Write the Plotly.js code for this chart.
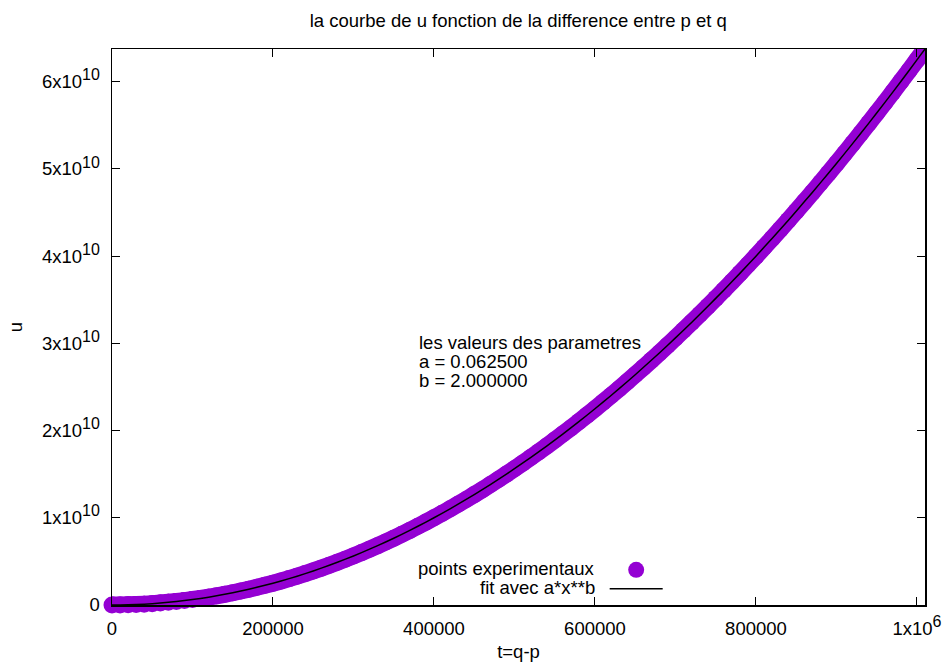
<!DOCTYPE html>
<html>
<head>
<meta charset="utf-8">
<script src="https://cdn.plot.ly/plotly-3.0.1.min.js"></script>
<style>
html,body{margin:0;padding:0;background:#fff;}
#chart{width:946px;height:662px;}
</style>
</head>
<body>
<div id="chart"></div>
<script>
// t = q - p
var tValues = [0,10000,20000,30000,40000,50000,60000,70000,80000,90000,
  100000,110000,120000,130000,140000,150000,160000,170000,180000,190000,
  200000,210000,220000,230000,240000,250000,260000,270000,280000,290000,
  300000,310000,320000,330000,340000,350000,360000,370000,380000,390000,
  400000,410000,420000,430000,440000,450000,460000,470000,480000,490000,
  500000,510000,520000,530000,540000,550000,560000,570000,580000,590000,
  600000,610000,620000,630000,640000,650000,660000,670000,680000,690000,
  700000,710000,720000,730000,740000,750000,760000,770000,780000,790000,
  800000,810000,820000,830000,840000,850000,860000,870000,880000,890000,
  900000,910000,920000,930000,940000,950000,960000,970000,980000,990000,
  1000000,1010000];
// u, in millions
var uMillions = [0,6.25,25,56.25,100,156.25,225,306.25,400,506.25,
  625,756.25,900,1056.25,1225,1406.25,1600,1806.25,2025,2256.25,
  2500,2756.25,3025,3306.25,3600,3906.25,4225,4556.25,4900,5256.25,
  5625,6006.25,6400,6806.25,7225,7656.25,8100,8556.25,9025,9506.25,
  10000,10506.25,11025,11556.25,12100,12656.25,13225,13806.25,14400,15006.25,
  15625,16256.25,16900,17556.25,18225,18906.25,19600,20306.25,21025,21756.25,
  22500,23256.25,24025,24806.25,25600,26406.25,27225,28056.25,28900,29756.25,
  30625,31506.25,32400,33306.25,34225,35156.25,36100,37056.25,38025,39006.25,
  40000,41006.25,42025,43056.25,44100,45156.25,46225,47306.25,48400,49506.25,
  50625,51756.25,52900,54056.25,55225,56406.25,57600,58806.25,60025,61256.25,
  62500,63756.25];
var xTickVals = [0,200000,400000,600000,800000,1000000];
var xTickText = ['0','200000','400000','600000','800000','1x10<sup><span style="font-size:16px">6</span></sup>'];
var yTickVals = [0,1e10,2e10,3e10,4e10,5e10,6e10];
var yTickText = ['0','1x10<sup><span style="font-size:16px">10</span></sup>','2x10<sup><span style="font-size:16px">10</span></sup>','3x10<sup><span style="font-size:16px">10</span></sup>','4x10<sup><span style="font-size:16px">10</span></sup>','5x10<sup><span style="font-size:16px">10</span></sup>','6x10<sup><span style="font-size:16px">10</span></sup>'];
var paramLines = ['les valeurs des parametres','a = 0.062500','b = 2.000000'];
var legendNames = ['points experimentaux','fit avec a*x**b'];

var uValues = uMillions.map(function(v){return v*1e6;});
var nearAxis = 13;

var purple = '#9400d3';
var FONT = 'Liberation Sans, Arial, Helvetica, sans-serif';
var FS = 18.5;

var traces = [
  {x: tValues, y: uValues, mode: 'lines', line: {color: purple, width: 17, simplify: false},
   showlegend: false, hoverinfo: 'skip'},
  {x: tValues.slice(0, nearAxis), y: uValues.slice(0, nearAxis), mode: 'markers',
   marker: {color: purple, size: 17}, cliponaxis: false, showlegend: false, hoverinfo: 'skip'},
  {x: tValues, y: uValues, mode: 'markers', name: legendNames[0],
   marker: {color: purple, size: 17}, cliponaxis: true},
  {x: tValues, y: uValues, mode: 'lines', name: legendNames[1],
   line: {color: '#000000', width: 1.5, simplify: false}}
];

function py(px){ return (604.7 - px) / 556; }
function pxp(px){ return (px - 112) / 812.7; }

var annotations = [];
var paramY = [342, 361, 380];
paramLines.forEach(function(t, i){
  annotations.push({text: t, xref: 'paper', yref: 'paper', x: pxp(417), y: py(paramY[i]),
    xanchor: 'left', yanchor: 'middle', showarrow: false, align: 'left',
    font: {family: FONT, size: FS, color: '#000'}});
});
var legY = [568, 587];
legendNames.forEach(function(t, i){
  annotations.push({text: t, xref: 'paper', yref: 'paper', x: pxp(597), y: py(legY[i]),
    xanchor: 'right', yanchor: 'middle', showarrow: false, align: 'right',
    font: {family: FONT, size: FS, color: '#000'}});
});

var axisCommon = {
  showgrid: false, zeroline: false, showline: true, linecolor: '#000', linewidth: 1.5,
  mirror: 'ticks', ticks: 'inside', ticklen: 8, tickwidth: 1, tickcolor: '#000',
  tickmode: 'array', tickfont: {family: FONT, size: FS, color: '#000'}
};

var layout = {
  width: 946, height: 662,
  margin: {l: 112, r: 21, t: 49, b: 57, pad: 0},
  paper_bgcolor: '#fff', plot_bgcolor: '#fff',
  font: {family: FONT, size: FS, color: '#000'},
  title: {text: 'la courbe de u fonction de la difference entre p et q',
    font: {family: FONT, size: FS, color: '#000'},
    x: 518.3/946, xanchor: 'center', xref: 'container', yref: 'container',
    y: 1 - 21/662, yanchor: 'middle'},
  xaxis: Object.assign({}, axisCommon, {
    range: [0, 1010000], tickvals: xTickVals, ticktext: xTickText,
    ticklabelstandoff: 6,
    title: {text: 't=q-p', font: {family: FONT, size: FS, color: '#000'}, standoff: 8}
  }),
  yaxis: Object.assign({}, axisCommon, {
    range: [0, 6.375e10], tickvals: yTickVals, ticktext: yTickText,
    ticklabelstandoff: 7,
    title: {text: 'u', font: {family: FONT, size: FS, color: '#000'}, standoff: 14}
  }),
  showlegend: true,
  legend: {x: pxp(604.5), y: py(555), xanchor: 'left', yanchor: 'top',
    bgcolor: 'rgba(0,0,0,0)', borderwidth: 0,
    font: {family: FONT, size: 11, color: 'rgba(0,0,0,0)'},
    itemwidth: 53, tracegroupgap: 0},
  annotations: annotations
};

Plotly.newPlot('chart', traces, layout, {displayModeBar: false, staticPlot: true});
</script>
</body>
</html>
